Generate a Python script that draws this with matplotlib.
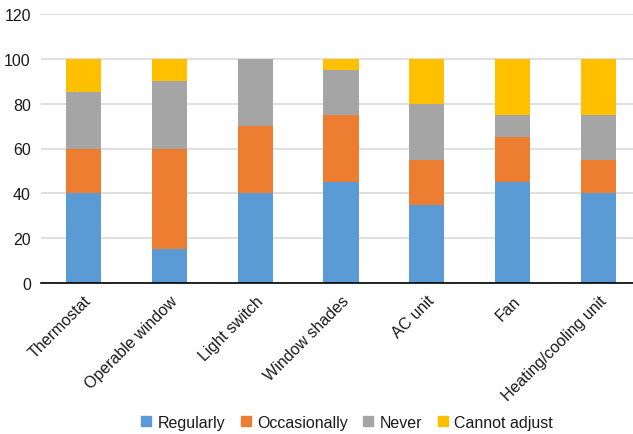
import numpy as np
import matplotlib
matplotlib.use('Agg')
import matplotlib.pyplot as plt
from matplotlib.lines import Line2D

plt.rcParams['font.family'] = ['Liberation Sans', 'DejaVu Sans']

# Data
categories = ['Thermostat', 'Operable window', 'Light switch', 'Window shades',
              'AC unit', 'Fan', 'Heating/cooling unit']
regularly = [40, 15, 40, 45, 35, 45, 40]
occasionally = [20, 45, 30, 30, 20, 20, 15]
never = [25, 30, 30, 20, 25, 10, 20]
cannot_adjust = [15, 10, 0, 5, 20, 25, 25]

series = [('Regularly', regularly, '#5B9BD5'),
          ('Occasionally', occasionally, '#ED7D31'),
          ('Never', never, '#A5A5A5'),
          ('Cannot adjust', cannot_adjust, '#FFC000')]

fig = plt.figure(figsize=(6.33, 4.35), dpi=100)
ax = fig.add_axes([40.5/633, 1 - 284/435, 1 - 40.5/633, (284 - 15)/435])

x = np.arange(len(categories))
bottom = np.zeros(len(categories))
handles = []
for name, vals, col in series:
    ax.bar(x, vals, 0.41, bottom=bottom, color=col, zorder=2)
    bottom += np.array(vals)
    handles.append(Line2D([], [], marker='s', linestyle='none', markersize=6.5,
                          markerfacecolor=col, markeredgecolor=col, label=name))

ax.set_ylim(0, 120)
ax.set_xlim(-0.5, 6 + (633 - 598.5) / 86)
ax.set_yticks(range(0, 121, 20))
ax.yaxis.grid(True, color='#d9d9d9', linewidth=1.2, zorder=0)
ax.set_axisbelow(True)
for s in ['top', 'right', 'left']:
    ax.spines[s].set_visible(False)
ax.spines['bottom'].set_color('black')
ax.spines['bottom'].set_linewidth(1.2)
ax.spines['bottom'].set_zorder(3)
ax.tick_params(length=0, labelsize=11.5, pad=7, colors='#1a1a1a')
ax.set_xticks(x)
ax.set_xticklabels(categories, rotation=45, ha='right', rotation_mode='anchor')

fig.legend(handles=handles, loc='center', bbox_to_anchor=(347/633, 1 - 423.5/435),
           ncol=4, frameon=False, fontsize=11.5, handletextpad=0.4,
           columnspacing=1.0, handlelength=0.6, labelcolor='#1a1a1a')

fig.savefig('out.png', dpi=100)
